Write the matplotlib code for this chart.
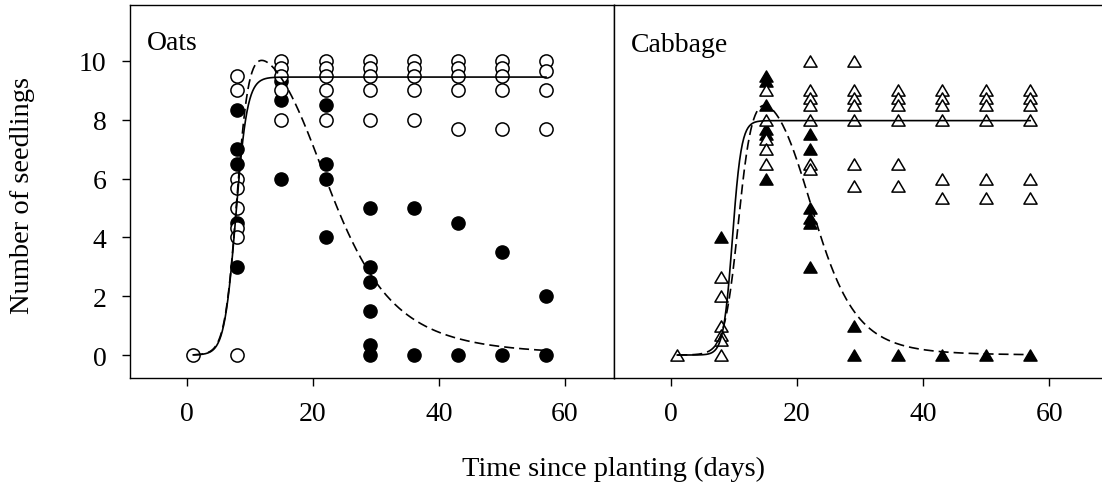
import numpy as np
import matplotlib
matplotlib.use("Agg")
import matplotlib.pyplot as plt
from matplotlib.path import Path

# Zeitpunkte der Zählungen (Tage nach Aussaat)
days = [1, 8, 15, 22, 29, 36, 43, 50, 57]

# Hafer: offene Kreise = aufgelaufen, gefüllte Kreise = überlebend
oats_open = [
    [0],
    [9.5, 9.0, 6.0, 5.67, 5.0, 4.33, 4.0, 0],
    [10, 9.75, 9.5, 9.0, 8.0],
    [10, 9.75, 9.5, 9.0, 8.0],
    [10, 9.75, 9.5, 9.0, 8.0],
    [10, 9.75, 9.5, 9.0, 8.0],
    [10, 9.75, 9.5, 9.0, 7.67],
    [10, 9.75, 9.5, 9.0, 7.67],
    [10, 9.67, 9.0, 7.67],
]
oats_filled = [
    [],
    [8.33, 7.0, 6.5, 4.5, 3.0],
    [9.33, 8.67, 6.0],
    [8.5, 6.5, 6.0, 4.0],
    [5.0, 3.0, 2.5, 1.5, 0.33, 0],
    [5.0, 0],
    [4.5, 0],
    [3.5, 0],
    [2.0, 0],
]

# Kohl: offene / gefüllte Dreiecke
cabbage_open = [
    [0],
    [2.67, 2.0, 1.0, 0.67, 0.5, 0],
    [9.0, 8.0, 7.33, 7.0, 6.5],
    [10, 9.0, 8.75, 8.5, 8.0, 6.5, 6.33],
    [10, 9.0, 8.75, 8.5, 8.0, 6.5, 5.75],
    [9.0, 8.75, 8.5, 8.0, 6.5, 5.75],
    [9.0, 8.75, 8.5, 8.0, 6.0, 5.33],
    [9.0, 8.75, 8.5, 8.0, 6.0, 5.33],
    [9.0, 8.75, 8.5, 8.0, 6.0, 5.33],
]
cabbage_filled = [
    [],
    [4.0],
    [9.5, 9.33, 8.5, 7.67, 7.5, 6.0],
    [7.5, 7.0, 5.0, 4.67, 4.5, 3.0],
    [1.0, 0],
    [0],
    [0],
    [0],
    [0],
]

# Parameter der angepassten Kurven (Emergenz logistisch, Überleben log-logistisch)
oats_emerg = dict(top=9.45, k=1.1, mid=7.75)
oats_surv = dict(top=10.6, k=1.05, mid=7.9, half=23.3, p=4.7)
cabbage_emerg = dict(top=7.97, k=1.4, mid=9.75)
cabbage_surv = dict(top=9.1, k=0.9, mid=10.7, half=23.0, p=7.0)

plt.rcParams['font.family'] = ['Liberation Serif', 'DejaVu Serif']
plt.rcParams['font.size'] = 20


def flatten(values):
    xs, ys = [], []
    for d, vals in zip(days, values):
        xs += [d] * len(vals)
        ys += vals
    return xs, ys


def emergence(t, top, k, mid):
    return top / (1 + np.exp(-k * (t - mid)))


def survival(t, top, k, mid, half, p):
    return emergence(t, top, k, mid) / (1 + (t / half) ** p)


tri = Path([(0, 0.85), (-1, -0.85), (1, -0.85), (0, 0.85)],
           [Path.MOVETO, Path.LINETO, Path.LINETO, Path.CLOSEPOLY])

W, H = 1102, 485
fig = plt.figure(figsize=(W / 100, H / 100), dpi=100)


def add_ax(left, top, right, bottom):
    return fig.add_axes([left / W, 1 - bottom / H, (right - left) / W, (bottom - top) / H])


ax1 = add_ax(130, 6, 614, 379)
ax2 = add_ax(614, 6, 1102, 379)

t = np.linspace(days[0], days[-1], 500)
dash = (0, (6, 3))

panels = [
    (ax1, oats_open, oats_filled, 'o', 9.5, oats_emerg, oats_surv, 'Oats', 10.4, (-9.05, 67.8)),
    (ax2, cabbage_open, cabbage_filled, tri, 9.5, cabbage_emerg, cabbage_surv, 'Cabbage', 10.33, (-9.05, 68.4)),
]

for ax, op, fi, mk, ms, em, sv, name, ty, xl in panels:
    fx, fy = flatten(fi)
    ox, oy = flatten(op)
    ax.plot(fx, fy, ls='none', marker=mk, ms=ms, mfc='black', mec='black', mew=1.0, zorder=2)
    ax.plot(ox, oy, ls='none', marker=mk, ms=ms, mfc='white', mec='black', mew=1.1, zorder=3)
    ax.plot(t, emergence(t, **em), color='black', lw=1.2, zorder=4)
    ax.plot(t, survival(t, **sv), color='black', lw=1.2, ls=dash, zorder=4)
    ax.text(xl[0] + 2.75, ty, name, va='baseline', ha='left')
    ax.set_xlim(*xl)
    ax.set_ylim(-0.78, 11.9)
    ax.set_xticks([0, 20, 40, 60])
    ax.tick_params(direction='out', length=5.8, width=1, pad=11, labelsize=20)
    for s in ax.spines.values():
        s.set_linewidth(1.0)

ax1.set_yticks([0, 2, 4, 6, 8, 10])
ax2.set_yticks([])
ax2.spines['right'].set_visible(False)

fig.text(614 / W, 9 / H, 'Time since planting (days)', ha='center', va='baseline', fontsize=20.5)
fig.text(23 / W, 1 - 196 / H, 'Number of seedlings', rotation=90, ha='center', va='center', fontsize=20.5)

fig.savefig('out.png', dpi=100)
